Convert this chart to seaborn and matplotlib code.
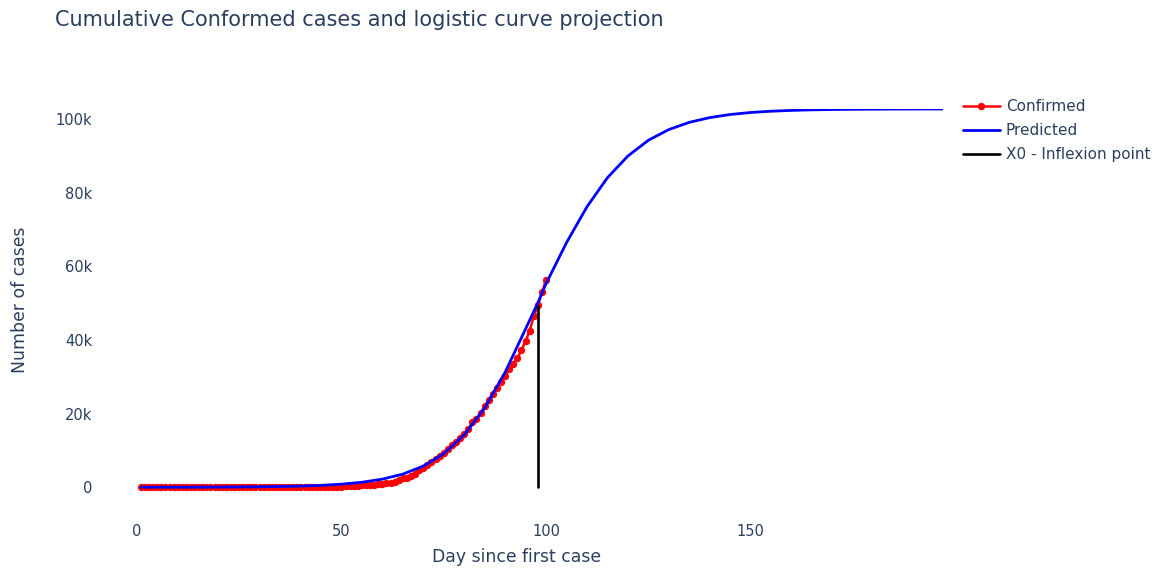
import numpy as np
import pandas as pd
import matplotlib
matplotlib.use("Agg")
import matplotlib.pyplot as plt
from matplotlib.ticker import FuncFormatter
import seaborn as sns

# Confirmed cumulative cases, days 1..100 since the first case
confirmed_days = list(range(1, 101))
confirmed_cases = [
    1, 1, 2, 3, 3, 3, 3, 3, 3, 3,
    3, 3, 3, 3, 3, 3, 3, 3, 3, 3,
    3, 3, 3, 3, 3, 3, 3, 3, 3, 3,
    3, 3, 5, 6, 28, 29, 30, 31, 34, 39,
    43, 56, 62, 73, 82, 102, 113, 119, 142, 156,
    194, 244, 330, 396, 499, 536, 657, 727, 887, 987,
    1024, 1251, 1397, 1998, 2543, 2567, 3082, 3588, 4778, 5311,
    5916, 6725, 7598, 8446, 9205, 10453, 11487, 12322, 13430, 14352,
    15722, 17615, 18539, 20080, 22000, 23800, 25300, 27000, 28600, 30300,
    32000, 33600, 35100, 37257, 39699, 42505, 46437, 49400, 52987, 56351,
]

# Fitted logistic projection
predicted_days = [1, 5, 10, 15, 20, 25, 30, 35, 40, 45, 50, 55, 60, 65, 70, 75,
                  80, 85, 90, 95, 98, 100, 105, 110, 115, 120, 125, 130, 135,
                  140, 145, 150, 155, 160, 165, 170, 175, 180, 185, 190, 195, 197]
predicted_cases = [6, 9, 15, 25, 41, 67, 111, 183, 301, 496, 815, 1337, 2184,
                   3552, 5727, 9113, 14220, 21500, 31220, 43000, 50100, 55300,
                   66450, 76200, 84100, 90000, 94280, 97190, 99150, 100440,
                   101290, 101830, 102180, 102400, 102550, 102640, 102700,
                   102730, 102760, 102770, 102780, 102780]

# Inflexion point marker (x0)
inflexion_days = [98, 98]
inflexion_cases = [0, 49300]

x_ticks = [0, 50, 100, 150]
y_ticks = [0, 20000, 40000, 60000, 80000, 100000]

TEXT = "#2a3f5f"

sns.set_theme(style="white")
plt.rcParams["font.family"] = ["DejaVu Sans"]

fig = plt.figure(figsize=(11.58, 5.68), dpi=100)
ax = fig.add_axes([102 / 1158, 1 - 510 / 568, (943 - 102) / 1158, (510 - 109) / 568])

conf_df = pd.DataFrame({"day": confirmed_days, "cases": confirmed_cases})
pred_df = pd.DataFrame({"day": predicted_days, "cases": predicted_cases})
infl_df = pd.DataFrame({"day": inflexion_days, "cases": inflexion_cases})

sns.lineplot(data=conf_df, x="day", y="cases", ax=ax, color="red", linewidth=1.8,
             marker="o", markersize=5.3, markeredgewidth=0, label="Confirmed",
             zorder=2)
sns.lineplot(data=pred_df, x="day", y="cases", ax=ax, color="blue", linewidth=2.0,
             label="Predicted", zorder=3)
sns.lineplot(data=infl_df, x="day", y="cases", ax=ax, color="black", linewidth=1.9,
             label="X0 - Inflexion point", zorder=4, estimator=None, sort=False)

ax.set_xlim(-8.5, 197)
ax.set_ylim(-6200, 102780)
ax.set_xticks(x_ticks)
ax.set_yticks(y_ticks)
ax.yaxis.set_major_formatter(FuncFormatter(lambda v, p: "0" if v == 0 else f"{int(v / 1000)}k"))
ax.tick_params(axis="both", length=0, labelsize=10.5, labelcolor=TEXT)
ax.tick_params(axis="y", pad=7)
ax.tick_params(axis="x", pad=10)
for s in ax.spines.values():
    s.set_visible(False)
ax.grid(False)

ax.set_xlabel("Day since first case", fontsize=12.4, color=TEXT)
ax.set_ylabel("Number of cases", fontsize=12.4, color=TEXT)
ax.xaxis.label.set_va("center")
ax.yaxis.label.set_va("center")
ax.xaxis.set_label_coords((517 - 102) / 841, (510 - 557) / 401)
ax.yaxis.set_label_coords((20 - 102) / 841, (510 - 300) / 401)

fig.text(55 / 1158, 1 - 20 / 568, "Cumulative Conformed cases and logistic curve projection",
         fontsize=15, color=TEXT, va="center", ha="left")

leg = ax.legend(loc="upper left", bbox_to_anchor=(963 / 1158, 1 - 99 / 568),
                bbox_transform=fig.transFigure, frameon=False, fontsize=11,
                handlelength=2.4, handletextpad=0.4, labelspacing=0.6,
                borderaxespad=0, borderpad=0)
for t in leg.get_texts():
    t.set_color(TEXT)

fig.savefig("out.png", dpi=100, facecolor="white")
